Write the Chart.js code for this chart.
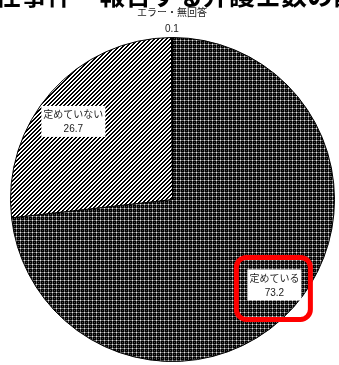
<!DOCTYPE html>
<html>
<head>
<meta charset="utf-8">
<script src="https://cdn.jsdelivr.net/npm/chart.js@4/dist/chart.umd.min.js"></script>
<style>
html,body{margin:0;padding:0;background:#fff;}
#wrap{position:relative;width:339px;height:365px;overflow:hidden;}
</style>
</head>
<body>
<div id="wrap"><canvas id="c" width="339" height="365"></canvas></div>
<script>
const title = '受任事件ー報告する弁護士数の割合';
const categories = ['定めている', '定めていない', 'エラー・無回答'];
const values = [73.2, 26.7, 0.1];
const highlighted = ['定めている'];

function dotPattern(){
  const c = document.createElement('canvas'); c.width = 4; c.height = 4;
  const x = c.getContext('2d');
  x.fillStyle = '#000'; x.fillRect(0,0,4,4);
  x.fillStyle = '#6a6a6a'; x.fillRect(0,0,4,1); x.fillRect(0,0,1,4);
  x.fillStyle = '#e8e8e8'; x.fillRect(0,0,1,1);
  x.fillStyle = '#444'; x.fillRect(2,2,1,1);
  return x.createPattern(c,'repeat');
}
function stripePattern(){
  const c = document.createElement('canvas'); c.width = 4; c.height = 4;
  const x = c.getContext('2d');
  x.fillStyle = '#fff'; x.fillRect(0,0,4,4);
  x.fillStyle = '#000';
  for (let i=0;i<4;i++) for (let j=0;j<4;j++) if (((i+j)%4)<2) x.fillRect(i,j,1,1);
  return x.createPattern(c,'repeat');
}
const ctx0 = document.getElementById('c').getContext('2d');
const fills = [dotPattern(), stripePattern(), '#000'];
// label placement: fraction of radius, and small nudges (px)
const labelStyle = [
  { f: 0.81, dx: 4, dy: -2 },
  { f: 0.81, dx: -1, dy: 9 },
  { f: 1.1, dx: 0, dy: 0 }
];

const labelPlugin = {
  id: 'labels',
  afterDraw(chart){
    const ctx = chart.ctx;
    ctx.save();
    ctx.font = 'bold 26px "Noto Sans CJK JP"';
    ctx.fillStyle = '#000';
    ctx.textBaseline = 'alphabetic';
    ctx.textAlign = 'left';
    ctx.fillText(title, -31, 5);
    ctx.restore();

    const meta = chart.getDatasetMeta(0);
    meta.data.forEach((arc, i) => {
      const p = arc.getProps(['x','y','startAngle','endAngle','outerRadius'], true);
      const mid = (p.startAngle + p.endAngle)/2;
      const st = labelStyle[i];
      const small = values[i] < 2;
      const cx = p.x + Math.cos(mid)*p.outerRadius*st.f + st.dx;
      const cy = p.y + Math.sin(mid)*p.outerRadius*st.f + st.dy;
      ctx.save();
      ctx.font = '10px "Liberation Sans", "Noto Sans CJK JP"';
      ctx.textAlign = 'center';
      ctx.textBaseline = 'middle';
      const l1 = categories[i], l2 = values[i].toFixed(1);
      if (small) {
        ctx.fillStyle = '#222';
        ctx.fillText(l1, cx, cy - 8);
        ctx.fillText(l2, cx, cy + 8);
      } else {
        const w = Math.max(ctx.measureText(l1).width, ctx.measureText(l2).width) + 4;
        const h = 31;
        ctx.fillStyle = '#fff';
        ctx.fillRect(cx - w/2, cy - h/2, w, h);
        ctx.fillStyle = '#222';
        ctx.fillText(l1, cx, cy - 6);
        ctx.fillText(l2, cx, cy + 8);
        if (highlighted.includes(l1)) {
          ctx.strokeStyle = '#f00';
          ctx.lineWidth = 5;
          ctx.beginPath();
          ctx.roundRect(cx - w/2 - 11, cy - h/2 - 12, w + 20, h + 31, 10);
          ctx.stroke();
        }
      }
      ctx.restore();
    });
  }
};

new Chart(ctx0, {
  type: 'pie',
  data: {
    labels: categories,
    datasets: [{
      data: values,
      backgroundColor: fills,
      borderColor: '#000',
      borderWidth: 1
    }]
  },
  options: {
    responsive: false,
    animation: false,
    layout: { padding: { left: 10, right: 4, top: 37, bottom: 3 } },
    plugins: { legend: { display: false }, tooltip: { enabled: false }, title: { display: false } }
  },
  plugins: [labelPlugin]
});
</script>
</body>
</html>
